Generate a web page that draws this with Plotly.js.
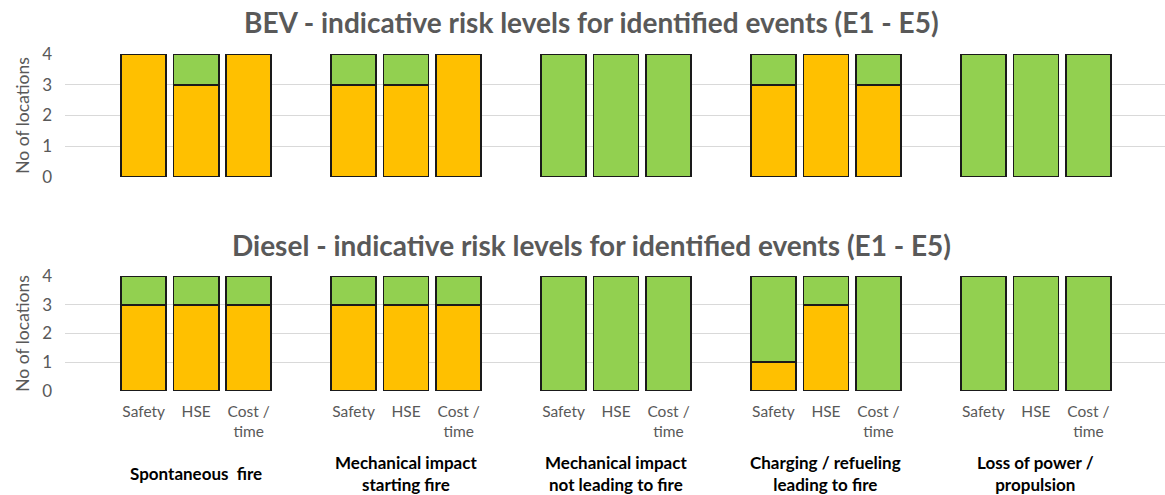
<!DOCTYPE html>
<html>
<head>
<meta charset="utf-8">
<script src="https://cdn.plot.ly/plotly-3.0.1.min.js"></script>
<style>html,body{margin:0;padding:0;background:#fff;}#chart{width:1165px;height:495px;}</style>
</head>
<body>
<div id="chart"></div>
<script>
const events = ["Spontaneous&nbsp; fire", "Mechanical impact<br>starting fire", "Mechanical impact<br>not leading to fire", "Charging / refueling<br>leading to fire", "Loss of power /<br>propulsion"];
const metrics = ["Safety", "HSE", "Cost /<br>time"];
const yTicks = [0, 1, 2, 3, 4];

// BEV: orange (higher) and green (lower) counts per event x metric
const bevOrange = [4, 3, 4,  3, 3, 4,  0, 0, 0,  3, 4, 3,  0, 0, 0];
const bevGreen  = [0, 1, 0,  1, 1, 0,  4, 4, 4,  1, 0, 1,  4, 4, 4];
// Diesel
const dieselOrange = [3, 3, 3,  3, 3, 3,  0, 0, 0,  1, 3, 0,  0, 0, 0];
const dieselGreen  = [1, 1, 1,  1, 1, 1,  4, 4, 4,  3, 1, 4,  4, 4, 4];

const titleTop = "BEV - indicative risk levels for identified events (E1 - E5)";
const titleBottom = "Diesel - indicative risk levels for identified events (E1 - E5)";
const yTitle = "No of locations";

const ORANGE = "#FFC000", GREEN = "#92D050", EDGE = "#1a1a1a";
const SLOTS = metrics.length + 1;

const xs = [], tickText = [];
events.forEach((e, g) => metrics.forEach((m, k) => { xs.push(g * SLOTS + k); tickText.push(m); }));
const nz = a => a.map(v => v === 0 ? null : v);

function bar(vals, color, xa, ya) {
  return {type: "bar", x: xs, y: nz(vals), xaxis: xa, yaxis: ya,
    marker: {color: color, line: {color: EDGE, width: 1.6}}, hoverinfo: "y", showlegend: false};
}

const data = [
  bar(bevOrange, ORANGE, "x", "y"),
  bar(bevGreen, GREEN, "x", "y"),
  bar(dieselOrange, ORANGE, "x2", "y2"),
  bar(dieselGreen, GREEN, "x2", "y2")
];

const H = 495, W = 1165;
const xr = [-1.5, 19.46];
const font = "Lato, 'Open Sans', sans-serif";
const axY = (dom) => ({domain: dom, range: [0, 4], tickvals: yTicks, showgrid: true, gridcolor: "#D9D9D9", gridwidth: 1,
  zeroline: false, showline: false, ticks: "", ticklabelstandoff: 12, tickfont: {family: font, size: 17, color: "#595959"},
  title: {text: yTitle, font: {family: font, size: 17.5, color: "#595959"}, standoff: 8}, fixedrange: true});

const annotations = [
  {text: "<b>" + titleTop + "</b>", xref: "paper", yref: "paper", x: 591 / W, y: (H - 22) / H, showarrow: false,
   xanchor: "center", yanchor: "middle", font: {family: font, size: 28, color: "#595959"}},
  {text: "<b>" + titleBottom + "</b>", xref: "paper", yref: "paper", x: 591 / W, y: (H - 245) / H, showarrow: false,
   xanchor: "center", yanchor: "middle", font: {family: font, size: 28, color: "#595959"}}
];
events.forEach((e, g) => annotations.push({
  text: "<b>" + e + "</b>", xref: "x2", yref: "paper", x: g * SLOTS + 1, y: (H - 473) / H, showarrow: false,
  xanchor: "center", yanchor: "middle", font: {family: font, size: 17, color: "#000"}
}));

const layout = {
  width: W, height: H, margin: {l: 0, r: 0, t: 0, b: 0}, paper_bgcolor: "#fff", plot_bgcolor: "#fff",
  barmode: "stack", bargap: 0.14,
  xaxis: {domain: [65 / W, 1], range: xr, showticklabels: false, showgrid: false, zeroline: false, ticks: "", fixedrange: true},
  xaxis2: {domain: [65 / W, 1], range: xr, anchor: "y2", tickvals: xs, ticktext: tickText, showgrid: false, zeroline: false,
    ticks: "", tickangle: 0, ticklabelstandoff: 9, tickfont: {family: font, size: 15.5, color: "#595959"}, fixedrange: true},
  yaxis: axY([(H - 177) / H, (H - 54) / H]),
  yaxis2: Object.assign(axY([(H - 391) / H, (H - 276) / H]), {anchor: "x2"}),
  annotations: annotations
};
layout.yaxis.anchor = "x";

Plotly.newPlot("chart", data, layout, {displayModeBar: false, staticPlot: true});
</script>
</body>
</html>
